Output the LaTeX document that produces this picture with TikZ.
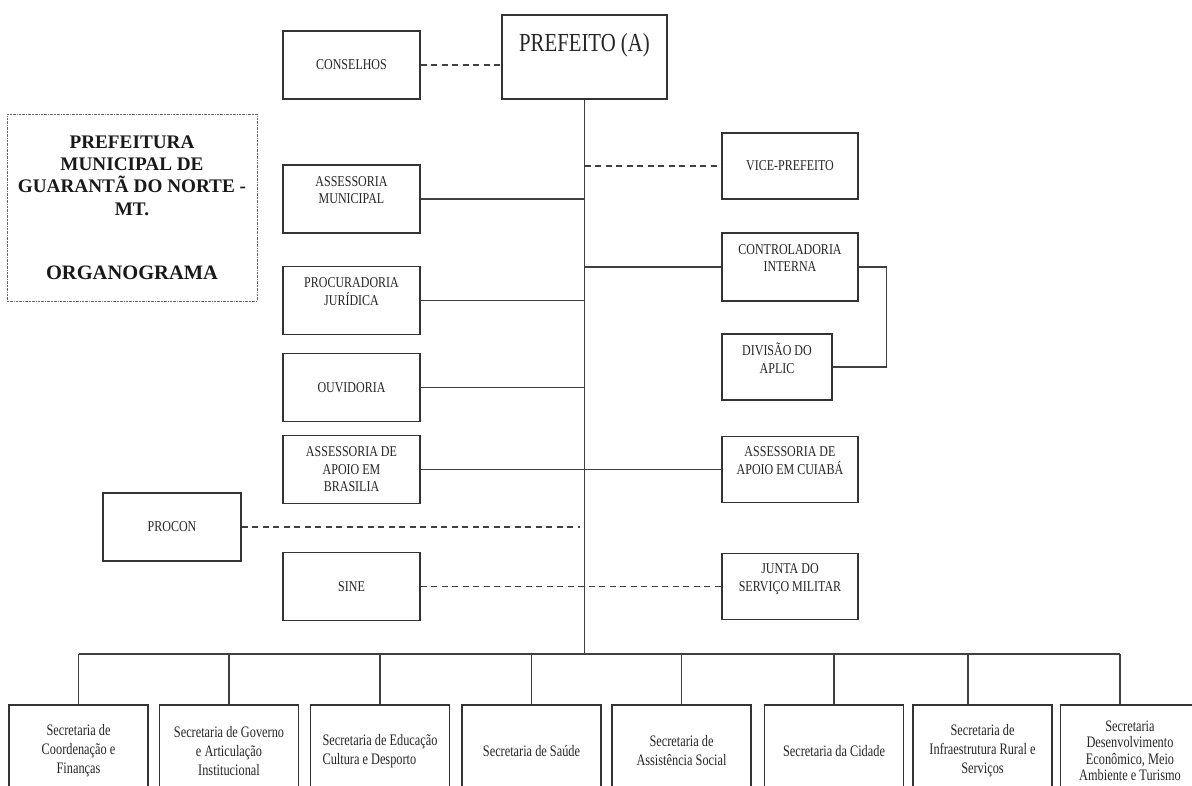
\documentclass[tikz,border=0pt]{standalone}
\usepackage{fontspec}
\setmainfont{Liberation Serif}
\newfontfamily\narrowserif[FakeStretch=0.80]{Liberation Serif}
\newfontfamily\narrowerserif[FakeStretch=0.77]{Liberation Serif}
% an empty trailing row lifts a short text towards the top of its box
\newcommand{\blankrow}{\\\mbox{}}
\begin{document}
\begin{tikzpicture}[x=1pt,y=-1pt,
  box/.style={draw=black!80, line width=1.4pt, rectangle, inner sep=2pt, align=center, text=black!85},
  unit/.style={box, minimum width=137pt, minimum height=68pt,
    font=\narrowserif\fontsize{15}{17.5}\selectfont},
  secbox/.style={box, minimum width=139pt, minimum height=92pt,
    font=\narrowerserif\fontsize{16}{19}\selectfont},
  titlebox/.style={draw=black!60, line width=0.8pt,
    dash pattern=on 2pt off 0.8pt on 0.8pt off 0.8pt,
    minimum width=250pt, minimum height=187pt, align=center, text=black!90,
    font=\bfseries\fontsize{19.2}{22.3}\selectfont},
  link/.style={draw=black!75, line width=1.3pt},
  dashlink/.style={link, dash pattern=on 6pt off 4.5pt},
]
\useasboundingbox (0,0) rectangle (1192,785);
\fill[white] (0,0) rectangle (1192,785);
\clip (0,0) rectangle (1192,785);

% top of the hierarchy
\node[box, minimum width=165pt, minimum height=84pt,
  font=\narrowserif\fontsize{26}{30}\selectfont] (pf) at (584.5,57) {PREFEITO (A)\blankrow};
\node[unit] (cons) at (351.5,65) {CONSELHOS};

% title block
\node[titlebox] (title) at (132,207.5)
  {PREFEITURA\\MUNICIPAL DE\\GUARANTÃ DO NORTE -\\MT.\\[42pt]{\fontsize{20.5}{24}\selectfont ORGANOGRAMA}};

% left column
\node[unit] (am)     at (351.5,199)   {ASSESSORIA\\MUNICIPAL\blankrow};
\node[unit] (pj)     at (351.5,300.5) {PROCURADORIA\\JURÍDICA\blankrow};
\node[unit] (ouv)    at (351.5,387.5) {OUVIDORIA};
\node[unit] (bras)   at (351.5,469.5) {ASSESSORIA DE\\APOIO EM\\BRASILIA};
\node[unit, minimum width=138pt] (procon) at (172,527) {PROCON};
\node[unit] (sine)   at (351.5,586.5) {SINE};

% right column
\node[unit, minimum width=136pt, minimum height=66pt] (vice)   at (790,166)   {VICE-PREFEITO};
\node[unit, minimum width=136pt] (ctrl)   at (790,267)   {CONTROLADORIA\\INTERNA\blankrow};
\node[unit, minimum width=110pt, minimum height=66pt] (div) at (777,367) {DIVISÃO DO\\APLIC\blankrow};
\node[unit, minimum width=136pt, minimum height=66pt] (cuiaba) at (790,469.5) {ASSESSORIA DE\\APOIO EM CUIABÁ\blankrow};
\node[unit, minimum width=136pt, minimum height=66pt] (junta)  at (790,586.5) {JUNTA DO\\SERVIÇO MILITAR\blankrow};

% secretariats
\node[secbox] (b1) at (78.5,751)  {Secretaria de\\Coordenação e\\Finanças};
\node[secbox] (b2) at (229,751)   {Secretaria de Governo\\e Articulação\\Institucional};
\node[secbox, align=left] (b3) at (380,751) {Secretaria de Educação\\Cultura e Desporto};
\node[secbox] (b4) at (531.5,751) {Secretaria de Saúde};
\node[secbox] (b5) at (681.5,751) {Secretaria de\\Assistência Social};
\node[secbox] (b6) at (834,751)   {Secretaria da Cidade};
\node[secbox] (b7) at (982.5,751) {Secretaria de\\Infraestrutura Rural e\\Serviços};
\node[secbox, font=\narrowerserif\fontsize{16}{16.5}\selectfont] (b8) at (1130,751)
  {Secretaria\\Desenvolvimento\\Econômico, Meio\\Ambiente e Turismo};

% bus joints
\coordinate (bus) at (0,654);
\coordinate (j7) at (968,654);
\coordinate (j8) at (1120,654);

% connectors
\draw[dashlink] (cons.east) -- (cons.east -| pf.west);
\draw[link] (pf.south) -- (pf.south |- bus);
\draw[dashlink] (pf.south |- vice.west) -- (vice.west);
\draw[link] (am.east) -- (am.east -| pf.south);
\draw[link] (pf.south |- ctrl.west) -- (ctrl.west);
\draw[link] (ctrl.east) -- ++(28,0) |- (div.east);
\draw[link] (pj.east) -- (pj.east -| pf.south);
\draw[link] (ouv.east) -- (ouv.east -| pf.south);
\draw[link] (bras.east) -- (cuiaba.west);
\draw[dashlink] (procon.east) -- ([xshift=-5pt]procon.east -| pf.south);
\draw[dashlink] (sine.east) -- (junta.west);

\draw[link] (b1.north |- bus) -- (j8);
\foreach \b in {b1,b2,b3,b4,b5,b6}
  \draw[link] (\b.north |- bus) -- (\b.north);
\draw[link] (j7) -- (j7 |- b7.north);
\draw[link] (j8) -- (j8 |- b8.north);
\end{tikzpicture}
\end{document}
